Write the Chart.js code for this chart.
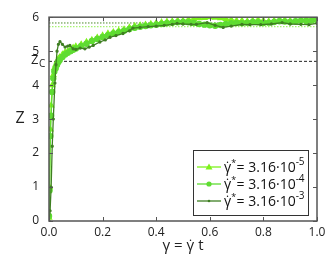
<!DOCTYPE html>
<html>
<head>
<meta charset="utf-8">
<script src="https://cdn.jsdelivr.net/npm/chart.js@4.4.1/dist/chart.umd.min.js"></script>
<style>
  html, body { margin: 0; padding: 0; background: #fff; }
  #wrap { width: 332px; height: 257px; }
</style>
</head>
<body>
<div id="wrap"><canvas id="c" width="332" height="257"></canvas></div>
<script>
// strain values (x) and Z values
const xLight = [0, 0.002, 0.005, 0.008, 0.012, 0.016, 0.02, 0.025, 0.03, 0.035, 0.04, 0.05, 0.06, 0.07, 0.08, 0.09, 0.10,
  0.12, 0.14, 0.16, 0.18, 0.20, 0.22, 0.24, 0.26, 0.28, 0.30, 0.32, 0.34, 0.36, 0.38, 0.40, 0.42, 0.44, 0.46, 0.48, 0.50,
  0.52, 0.54, 0.56, 0.58, 0.60, 0.62, 0.64, 0.66, 0.68, 0.70, 0.72, 0.74, 0.76, 0.78, 0.80, 0.82, 0.84, 0.86, 0.88, 0.90,
  0.92, 0.94, 0.96, 0.98, 1.00];
const zSlow = [0.1, 1.0, 2.7, 3.4, 4.0, 4.3, 4.5, 4.6, 4.7, 4.78, 4.82, 4.9, 4.97, 5.0, 5.05, 5.1, 5.14,
  5.2, 5.27, 5.33, 5.4, 5.46, 5.52, 5.56, 5.6, 5.64, 5.7, 5.74, 5.76, 5.78, 5.8, 5.83, 5.85, 5.87, 5.88, 5.9, 5.9,
  5.93, 5.95, 5.97, 5.98, 6.0, 5.99, 5.97, 5.95, 5.93, 5.9, 5.9, 5.88, 5.9, 5.92, 5.9, 5.88, 5.9, 5.93, 5.92, 5.9,
  5.89, 5.92, 5.95, 5.93, 5.96];
const zMid = [0.15, 0.9, 2.5, 3.1, 3.8, 4.2, 4.4, 4.5, 4.6, 4.68, 4.74, 4.83, 4.9, 4.95, 5.0, 5.04, 5.08,
  5.15, 5.22, 5.3, 5.36, 5.42, 5.47, 5.52, 5.56, 5.6, 5.65, 5.69, 5.72, 5.74, 5.76, 5.78, 5.8, 5.82, 5.84, 5.85, 5.86,
  5.85, 5.83, 5.8, 5.78, 5.76, 5.75, 5.77, 5.8, 5.82, 5.83, 5.82, 5.84, 5.86, 5.85, 5.83, 5.84, 5.86, 5.88, 5.87, 5.86,
  5.88, 5.9, 5.89, 5.9, 5.92];
const xFast = [0, 0.004, 0.008, 0.012, 0.016, 0.022, 0.026, 0.03, 0.035, 0.041, 0.05, 0.06, 0.07, 0.078, 0.09, 0.1,
  0.116, 0.134, 0.15, 0.165, 0.19, 0.21, 0.228, 0.25, 0.276, 0.3, 0.313, 0.34, 0.37, 0.4, 0.43, 0.46, 0.478, 0.5,
  0.53, 0.55, 0.59, 0.62, 0.65, 0.68, 0.72, 0.75, 0.79, 0.83, 0.87, 0.9, 0.94, 0.97, 1.0];
const zFast = [0, 0.3, 1.0, 2.2, 3.0, 4.06, 4.6, 5.0, 5.2, 5.28, 5.2, 5.12, 5.15, 5.17, 5.07, 5.05,
  5.09, 5.07, 5.12, 5.17, 5.27, 5.33, 5.41, 5.46, 5.52, 5.6, 5.68, 5.7, 5.72, 5.74, 5.76, 5.79, 5.82, 5.8,
  5.79, 5.79, 5.84, 5.76, 5.7, 5.74, 5.79, 5.78, 5.78, 5.8, 5.84, 5.8, 5.79, 5.78, 5.82];
const zc = 4.7;
const zPlateauFast = 5.83;
const zPlateauSlow = 5.72;
const legendExp = ['-5', '-4', '-3'];
const xTicks = [0, 0.2, 0.4, 0.6, 0.8, 1.0];
const yTicks = [0, 1, 2, 3, 4, 5, 6];

const cSlow = '#7ef21c', cMid = '#5fdc32', cFast = '#3f7f22';
const FONT = '"Open Sans", sans-serif';

const pts = (xs, ys) => xs.map((x, i) => ({ x: x, y: ys[i] }));

const frame = {
  id: 'frame',
  afterDraw(chart) {
    const { ctx, chartArea: a, scales: { x, y } } = chart;
    ctx.save();
    ctx.strokeStyle = '#555';
    ctx.lineWidth = 1.5;
    ctx.strokeRect(a.left, a.top, a.right - a.left, a.bottom - a.top);
    ctx.lineWidth = 1;
    ctx.beginPath();
    xTicks.forEach(v => {
      const px = Math.round(x.getPixelForValue(v)) + 0.5;
      ctx.moveTo(px, a.bottom); ctx.lineTo(px, a.bottom - 4);
      ctx.moveTo(px, a.top); ctx.lineTo(px, a.top + 4);
    });
    yTicks.forEach(v => {
      const py = Math.round(y.getPixelForValue(v)) + 0.5;
      ctx.moveTo(a.left, py); ctx.lineTo(a.left + 4, py);
      ctx.moveTo(a.right, py); ctx.lineTo(a.right - 4, py);
    });
    ctx.stroke();

    // Zc label on the y axis
    ctx.fillStyle = '#222';
    ctx.textBaseline = 'middle';
    const pzc = y.getPixelForValue(zc);
    ctx.font = '13px ' + FONT;
    ctx.textAlign = 'left';
    ctx.fillText('Z', 31, pzc - 1);
    ctx.font = '10px ' + FONT;
    ctx.fillText('C', 39, pzc + 3);

    // axis titles
    ctx.font = '16px ' + FONT;
    ctx.textAlign = 'center';
    ctx.fillText('Z', 20, 118);
    ctx.font = '15px ' + FONT;
    ctx.fillText('\u03b3 = \u03b3\u0307 t', 183, 246);

    // legend
    const lx = 193, ly = 150, lw = 115, lh = 65;
    ctx.fillStyle = '#fff';
    ctx.fillRect(lx, ly, lw, lh);
    ctx.strokeStyle = '#333';
    ctx.lineWidth = 1;
    ctx.strokeRect(lx + 0.5, ly + 0.5, lw, lh);
    const ds = chart.data.datasets.slice(0, 3);
    ds.forEach((d, i) => {
      const ry = ly + 17 + i * 17;
      ctx.strokeStyle = d.borderColor;
      ctx.lineWidth = 1.3;
      ctx.beginPath(); ctx.moveTo(lx + 4, ry); ctx.lineTo(lx + 28, ry); ctx.stroke();
      ctx.fillStyle = d.pointBackgroundColor;
      const mx = lx + 16;
      ctx.beginPath();
      if (i === 0) {
        ctx.moveTo(mx, ry - 3.5); ctx.lineTo(mx + 3.5, ry + 2.5); ctx.lineTo(mx - 3.5, ry + 2.5); ctx.closePath();
      } else {
        ctx.arc(mx, ry, i === 1 ? 2.6 : 1.3, 0, Math.PI * 2);
      }
      ctx.fill();
      ctx.fillStyle = '#111';
      ctx.textAlign = 'left';
      ctx.font = '14px ' + FONT;
      let tx = lx + 31;
      ctx.fillText('\u03b3\u0307', tx, ry + 1);
      tx += ctx.measureText('\u03b3').width;
      ctx.font = '9px ' + FONT;
      ctx.fillText('*', tx, ry - 4);
      tx += ctx.measureText('*').width + 0.5;
      ctx.font = '14px ' + FONT;
      const main = '= 3.16\u00b710';
      ctx.fillText(main, tx, ry + 1);
      tx += ctx.measureText(main).width;
      ctx.font = '10px ' + FONT;
      ctx.fillText(legendExp[i], tx, ry - 5);
    });
    ctx.restore();
  }
};

new Chart(document.getElementById('c'), {
  type: 'line',
  data: {
    datasets: [
      { data: pts(xLight, zSlow), borderColor: cSlow, backgroundColor: cSlow, pointBackgroundColor: cSlow,
        pointBorderColor: cSlow, pointStyle: 'triangle', pointRadius: 3, borderWidth: 1.2, order: 3 },
      { data: pts(xLight, zMid), borderColor: cMid, backgroundColor: cMid, pointBackgroundColor: cMid,
        pointBorderColor: cMid, pointStyle: 'circle', pointRadius: 2.6, borderWidth: 1.2, order: 2 },
      { data: pts(xFast, zFast), borderColor: cFast, backgroundColor: cFast, pointBackgroundColor: cFast,
        pointBorderColor: cFast, pointRadius: 1, borderWidth: 1.3, order: 1 },
      { data: [{ x: 0, y: zc }, { x: 1, y: zc }], borderColor: '#222', borderWidth: 1, borderDash: [3, 2],
        pointRadius: 0, order: 5 },
      { data: [{ x: 0, y: zPlateauFast }, { x: 1, y: zPlateauFast }], borderColor: '#4c8a2a', borderWidth: 1,
        borderDash: [1.5, 1.5], pointRadius: 0, order: 5 },
      { data: [{ x: 0, y: zPlateauSlow }, { x: 1, y: zPlateauSlow }], borderColor: '#8ef04a', borderWidth: 1,
        borderDash: [1.5, 1.5], pointRadius: 0, order: 5 }
    ]
  },
  options: {
    responsive: false,
    animation: false,
    layout: { padding: { left: 0, right: 15, top: 12, bottom: 0 } },
    plugins: { legend: { display: false }, tooltip: { enabled: false } },
    scales: {
      x: {
        type: 'linear', min: 0, max: 1,
        afterBuildTicks: s => { s.ticks = xTicks.map(v => ({ value: v })); },
        afterFit: s => { s.height = 36; },
        grid: { display: false, drawTicks: false },
        border: { display: false },
        ticks: { padding: 4, color: '#222', font: { family: FONT, size: 12 }, callback: v => v.toFixed(1), maxRotation: 0 }
      },
      y: {
        min: 0, max: 6,
        afterBuildTicks: s => { s.ticks = yTicks.map(v => ({ value: v })); },
        afterFit: s => { s.width = 49; },
        grid: { display: false, drawTicks: false },
        border: { display: false },
        ticks: { padding: 10, color: '#222', font: { family: FONT, size: 12 } }
      }
    }
  },
  plugins: [frame]
});
</script>
</body>
</html>
